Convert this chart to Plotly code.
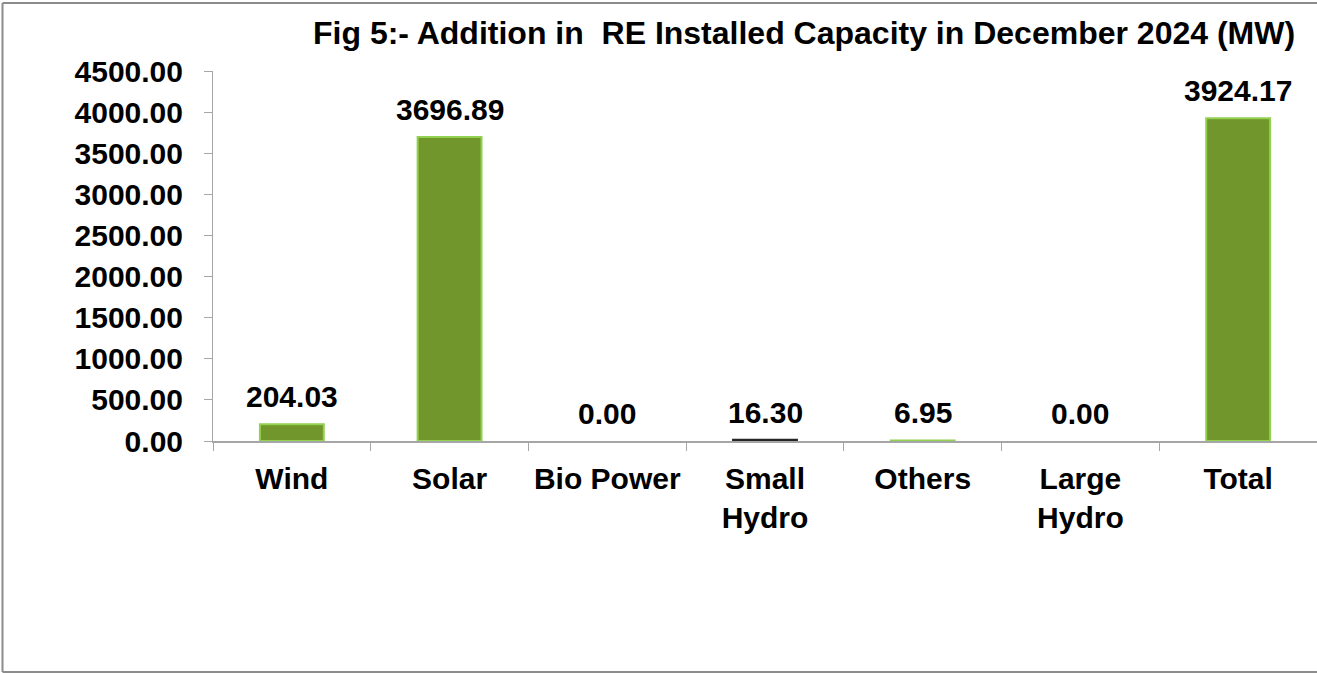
import plotly.graph_objects as go

categories = ["Wind", "Solar", "Bio Power", "Small<br>Hydro", "Others", "Large<br>Hydro", "Total"]
values = [204.03, 3696.89, 0.00, 16.30, 6.95, 0.00, 3924.17]
value_labels = ["204.03", "3696.89", "0.00", "16.30", "6.95", "0.00", "3924.17"]
outline_colors = ["#92D050", "#92D050", "#92D050", "#262626", "#92D050", "#92D050", "#92D050"]
outline_widths = [2, 2, 0, 2, 2, 0, 2]
y_ticks = [0, 500, 1000, 1500, 2000, 2500, 3000, 3500, 4000, 4500]

W, H = 1317, 673
L, R, T, B = 213, 0, 71, 232
pw, ph = W - L - R, H - T - B

FONT = "Arial, 'Liberation Sans', sans-serif"

fig = go.Figure()
fig.add_trace(go.Bar(
    x=categories, y=values, width=0.405,
    marker=dict(color="#70962C", line=dict(color=outline_colors, width=outline_widths)),
    hoverinfo="skip", cliponaxis=False,
))

for c, v, t in zip(categories, values, value_labels):
    fig.add_annotation(x=c, y=v, text="<b>%s</b>" % t, showarrow=False,
                       xanchor="center", yanchor="bottom", yshift=9,
                       font=dict(family=FONT, size=30, color="#000000"))

def px_x(x):
    return (x - L) / pw

def px_y(y):
    return (H - B - y) / ph

fig.add_annotation(xref="paper", yref="paper", x=px_x(1297), y=px_y(33),
                   xanchor="right", yanchor="middle", showarrow=False,
                   text="<b>Fig 5:- Addition in \u00a0RE Installed Capacity in December 2024 (MW)</b>",
                   font=dict(family=FONT, size=32, color="#000000"))

border = dict(color="#8C8C8C", width=2)
# left, top, bottom edges of the outer frame (right edge lies outside the picture)
fig.add_shape(type="line", xref="paper", yref="paper", x0=px_x(2.5), x1=px_x(2.5),
              y0=px_y(672), y1=px_y(3), line=border, layer="above")
fig.add_shape(type="line", xref="paper", yref="paper", x0=px_x(2.5), x1=px_x(1340),
              y0=px_y(3), y1=px_y(3), line=border, layer="above")
fig.add_shape(type="line", xref="paper", yref="paper", x0=px_x(2.5), x1=px_x(1340),
              y0=px_y(672), y1=px_y(672), line=border, layer="above")

fig.update_layout(
    width=W, height=H, autosize=False,
    margin=dict(l=L, r=R, t=T, b=B, pad=0),
    paper_bgcolor="white", plot_bgcolor="white",
    showlegend=False, bargap=0.6,
    font=dict(family=FONT, size=30, color="#000000"),
)
fig.update_xaxes(
    showline=True, linecolor="#A6A6A6", linewidth=2,
    ticks="outside", tickson="boundaries", ticklen=8, tickcolor="#A6A6A6", tickwidth=1,
    tickfont=dict(family=FONT, size=30, color="#000000"),
    ticklabelstandoff=10, showgrid=False, zeroline=False,
    tickvals=categories, ticktext=["<b>%s</b>" % c for c in categories],
)
fig.update_yaxes(
    range=[0, 4500], tickvals=y_ticks, ticktext=["<b>%.2f</b>" % v for v in y_ticks],
    showline=True, linecolor="#A6A6A6", linewidth=1,
    ticks="outside", ticklen=8, tickcolor="#A6A6A6", tickwidth=1,
    tickfont=dict(family=FONT, size=30, color="#000000"),
    ticklabelstandoff=15, showgrid=False, zeroline=False,
)

fig.write_html("out.html", config={"displayModeBar": False},
               post_script="document.body.style.margin='0';document.body.style.overflow='hidden';")
